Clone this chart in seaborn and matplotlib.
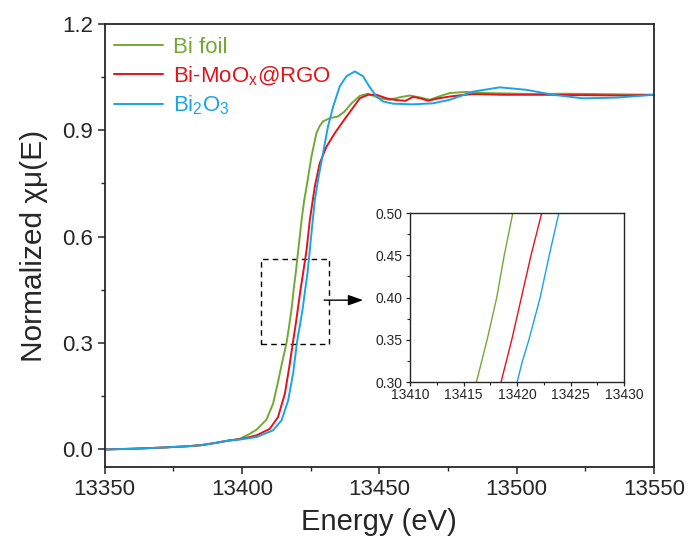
import matplotlib
matplotlib.use('Agg')
import matplotlib.pyplot as plt
from matplotlib.patches import Rectangle
from matplotlib.ticker import MultipleLocator
import seaborn as sns

# Bi L3-edge XANES
pre_e = [13350, 13360, 13370, 13380, 13385, 13390, 13395]
pre_mu = [0.0, 0.002, 0.005, 0.009, 0.012, 0.018, 0.025]

foil_e = pre_e + [13399.2, 13402.8, 13405.3, 13408.9, 13411.3, 13413.1, 13414.6, 13416.2,
                  13417.2, 13418.1, 13418.8, 13419.6, 13420.6, 13421.7, 13422.6, 13423.6,
                  13425.3, 13427.1, 13428.3, 13429.5, 13432.0, 13435.0, 13437.4, 13439.9,
                  13442.9, 13445.9, 13450.2, 13453.8, 13457.5, 13461.1, 13464.5, 13468.4,
                  13472.0, 13475.7, 13481.7, 13487.8, 13495.0, 13506.0, 13518.0, 13530.3,
                  13540.0, 13550.0]
foil_mu = pre_mu + [0.030, 0.044, 0.056, 0.084, 0.129, 0.19, 0.245, 0.30,
                    0.35, 0.40, 0.45, 0.50, 0.57, 0.647, 0.70, 0.745,
                    0.826, 0.892, 0.912, 0.925, 0.934, 0.939, 0.953, 0.976,
                    0.997, 1.003, 0.99, 0.986, 0.993, 0.998, 0.993, 0.986,
                    0.996, 1.005, 1.008, 1.005, 1.004, 1.002, 1.003, 1.002,
                    1.001, 1.0]

mox_e = pre_e + [13399.2, 13402.8, 13405.3, 13410.1, 13413.1, 13415.6, 13417.2, 13418.5,
                 13419.5, 13420.4, 13421.3, 13422.3, 13423.5, 13424.7, 13426.5, 13428.3,
                 13430.8, 13433.8, 13436.8, 13439.9, 13442.9, 13445.9, 13449.0, 13452.6,
                 13456.3, 13459.5, 13462.3, 13465.0, 13467.8, 13471.5, 13475.7, 13480.0,
                 13484.2, 13495.0, 13510.0, 13525.0, 13540.0, 13550.0]
mox_mu = pre_mu + [0.029, 0.035, 0.040, 0.058, 0.091, 0.157, 0.232, 0.30,
                   0.35, 0.40, 0.45, 0.50, 0.562, 0.647, 0.741, 0.807,
                   0.854, 0.892, 0.925, 0.958, 0.99, 1.0, 1.0, 0.99,
                   0.985, 0.983, 0.994, 0.99, 0.983, 0.99, 0.995, 0.999,
                   1.002, 1.0, 1.0, 0.999, 0.998, 1.0]

oxide_e = pre_e + [13399.2, 13405.3, 13411.3, 13414.4, 13416.8, 13418.6, 13420.0, 13420.5,
                   13421.1, 13422.15, 13423.0, 13423.9, 13425.3, 13426.5, 13427.7, 13429.5,
                   13431.3, 13433.2, 13435.6, 13438.0, 13441.1, 13444.1, 13446.3, 13449.0,
                   13451.4, 13455.0, 13462.0, 13469.6, 13475.7, 13484.2, 13493.9, 13503.6,
                   13513.3, 13524.2, 13536.4, 13550.0]
oxide_mu = pre_mu + [0.028, 0.035, 0.054, 0.082, 0.138, 0.214, 0.30, 0.325,
                     0.35, 0.40, 0.45, 0.50, 0.61, 0.703, 0.76, 0.835,
                     0.91, 0.967, 1.024, 1.052, 1.066, 1.052, 1.024, 0.995,
                     0.981, 0.975, 0.973, 0.976, 0.986, 1.009, 1.021, 1.014,
                     1.0, 0.99, 0.992, 1.0]

labels = ['Bi foil', r'Bi-MoO$_\mathregular{x}$@RGO', r'Bi$_\mathregular{2}$O$_\mathregular{3}$']
colors = ['#72a936', '#e3131b', '#1aa3e6']

sns.set_style('ticks')
plt.rcParams['font.family'] = ['Liberation Sans', 'DejaVu Sans']
plt.rcParams['mathtext.fontset'] = 'custom'
plt.rcParams['mathtext.rm'] = 'Liberation Sans'

fig = plt.figure(figsize=(6.89, 5.42), dpi=100)
ax = fig.add_axes([0.152, 0.138, 0.797, 0.818])

series = [(foil_e, foil_mu), (mox_e, mox_mu), (oxide_e, oxide_mu)]
for (e, mu), lab, c in zip(series, labels, colors):
    sns.lineplot(x=e, y=mu, ax=ax, color=c, label=lab, sort=False, lw=1.4)

ax.set_xlim(13350, 13550)
ax.set_ylim(-0.05, 1.2)
ax.set_xticks([13350, 13400, 13450, 13500, 13550])
ax.set_yticks([0.0, 0.3, 0.6, 0.9, 1.2])
ax.xaxis.set_minor_locator(MultipleLocator(25))
ax.yaxis.set_minor_locator(MultipleLocator(0.15))
ax.tick_params(axis='both', which='major', direction='out', length=5, width=1.1,
               labelsize=16, top=False, right=False)
ax.tick_params(axis='both', which='minor', direction='out', length=3, width=1.0,
               top=False, right=False)
for s in ax.spines.values():
    s.set_linewidth(1.3)
    s.set_visible(True)
ax.set_xlabel('Energy (eV)', fontsize=21, labelpad=6)
ax.set_ylabel('Normalized χμ(E)', fontsize=21.5, labelpad=10)

leg = ax.legend(loc='upper left', bbox_to_anchor=(0.0, 0.99), frameon=False,
                fontsize=16, handlelength=2.2, handletextpad=0.45,
                labelspacing=0.28, borderaxespad=0.0, labelcolor='linecolor')

# dashed zoom box and arrow
ax.add_patch(Rectangle((13406.8, 0.296), 24.9, 0.24, fill=False, ls=(0, (4, 3)),
                       lw=1.0, ec='black'))
ax.annotate('', xy=(13445.1, 0.421), xytext=(13428.9, 0.421),
            arrowprops=dict(arrowstyle='-|>,head_length=0.9,head_width=0.32',
                            color='black', lw=1.0))

# inset
axin = fig.add_axes([0.595, 0.295, 0.311, 0.312])
for (e, mu), c in zip(series, colors):
    sns.lineplot(x=e, y=mu, ax=axin, color=c, sort=False, lw=1.0)
axin.set_xlim(13410, 13430)
axin.set_ylim(0.30, 0.50)
axin.set_xticks([13410, 13415, 13420, 13425, 13430])
axin.set_yticks([0.30, 0.35, 0.40, 0.45, 0.50])
axin.set_yticklabels(['0.30', '0.35', '0.40', '0.45', '0.50'])
axin.xaxis.set_minor_locator(MultipleLocator(2.5))
axin.yaxis.set_minor_locator(MultipleLocator(0.025))
axin.tick_params(axis='both', which='major', direction='out', length=3, width=0.9,
                 labelsize=10)
axin.tick_params(axis='x', which='major', pad=1.5)
axin.tick_params(axis='y', which='major', pad=2.5)
axin.tick_params(axis='both', which='minor', direction='out', length=2, width=0.8)
for s in axin.spines.values():
    s.set_linewidth(1.0)

fig.savefig('out.png', dpi=100)
